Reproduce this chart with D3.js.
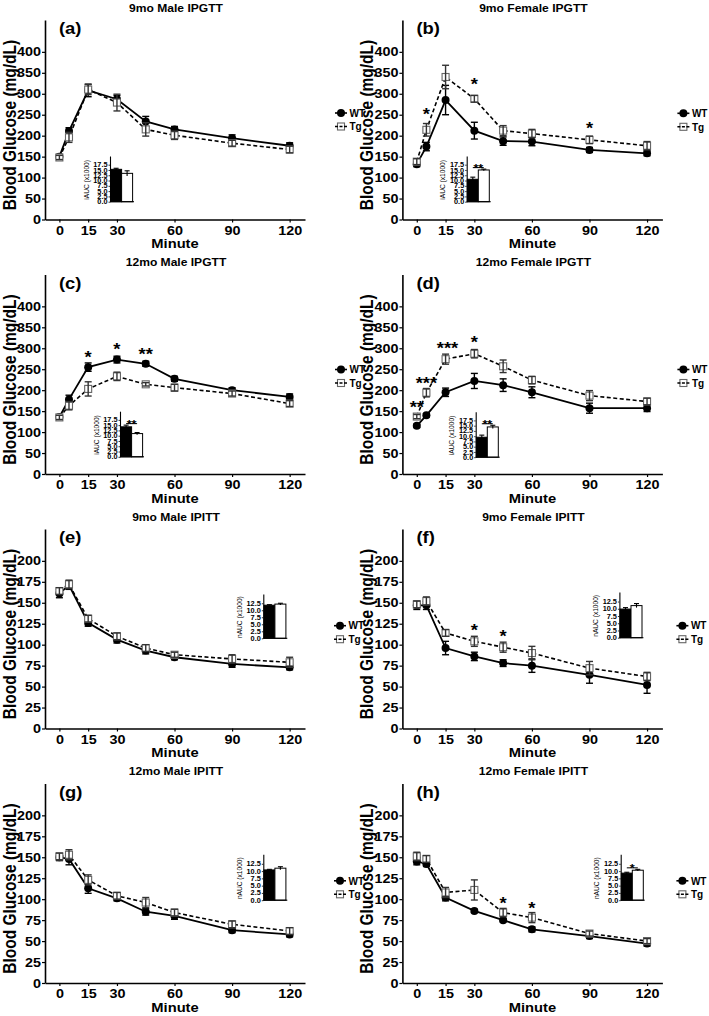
<!DOCTYPE html>
<html><head><meta charset="utf-8">
<script src="https://cdn.jsdelivr.net/npm/d3@7/dist/d3.min.js"></script>
<style>body{margin:0;background:#fff}text{font-family:"Liberation Sans",Arial,sans-serif}</style>
</head><body>
<script>
// ---------- DATA ----------
const times = [0, 5, 15, 30, 45, 60, 90, 120];
const xTicks = [0, 15, 30, 60, 90, 120];
const gttTicks = [0, 50, 100, 150, 200, 250, 300, 350, 400];
const ittTicks = [0, 25, 50, 75, 100, 125, 150, 175, 200];
const iaucTicks = [0, 2.5, 5, 7.5, 10, 12.5, 15, 17.5];
const naucTicks = [0, 2.5, 5, 7.5, 10, 12.5];
const groups = ["WT", "Tg"];
const letters = ["(a)", "(b)", "(c)", "(d)", "(e)", "(f)", "(g)", "(h)"];
const titles = ["9mo Male IPGTT", "9mo Female IPGTT", "12mo Male IPGTT", "12mo Female IPGTT",
                "9mo Male IPITT", "9mo Female IPITT", "12mo Male IPITT", "12mo Female IPITT"];
const kinds = ["GTT", "GTT", "GTT", "GTT", "ITT", "ITT", "ITT", "ITT"];

// WT / Tg means and SEM per panel
const wtA = [150, 211, 308, 287, 234, 215, 194, 176], wtAe = [5, 8, 15, 9, 12, 7, 8, 7];
const tgA = [148, 196, 310, 279, 215, 201, 182, 167], tgAe = [5, 12, 12, 20, 16, 10, 7, 8];
const wtB = [132, 174, 285, 212, 187, 186, 166, 158], wtBe = [6, 10, 35, 20, 10, 10, 6, 6];
const tgB = [138, 214, 340, 288, 212, 205, 190, 176], tgBe = [7, 15, 28, 8, 12, 10, 9, 10];
const wtC = [136, 178, 255, 273, 263, 227, 200, 184], wtCe = [5, 10, 10, 8, 6, 6, 6, 7];
const tgC = [135, 163, 203, 233, 214, 206, 192, 168], tgCe = [5, 10, 17, 10, 4, 8, 6, 7];
const wtD = [115, 140, 195, 222, 212, 195, 157, 157], wtDe = [4, 4, 10, 18, 15, 13, 12, 8];
const tgD = [137, 194, 274, 287, 257, 224, 187, 173], tgDe = [5, 10, 12, 10, 15, 9, 12, 8];
const wtE = [161, 171, 126, 106, 93, 85, 77, 73], wtEe = [5, 5, 4, 4, 4, 3, 4, 3];
const tgE = [164, 172, 131, 110, 96, 88, 83, 79], tgEe = [4, 5, 4, 4, 4, 3, 5, 6];
const wtF = [147, 147, 96, 86, 78, 75, 64, 52], wtFe = [5, 5, 8, 5, 4, 8, 10, 10];
const tgF = [148, 152, 114, 104, 97, 90, 72, 62], tgFe = [4, 5, 4, 6, 6, 8, 8, 5];
const wtG = [150, 148, 113, 101, 85, 80, 63, 58], wtGe = [4, 7, 6, 3, 4, 4, 3, 3];
const tgG = [151, 153, 123, 104, 96, 84, 70, 62], tgGe = [4, 6, 6, 4, 6, 4, 4, 4];
const wtH = [145, 142, 102, 86, 75, 64, 56, 47], wtHe = [4, 3, 4, 2, 2, 3, 3, 3];
const tgH = [151, 148, 108, 111, 84, 78, 59, 50], tgHe = [5, 4, 6, 12, 5, 6, 3, 3];

// Significance stars on curves: [time, label, glucose level]
const starsA = [];
const starsB = [[5, "*", 259], [30, "*", 332], [90, "*", 227]];
const starsC = [[15, "*", 287], [30, "*", 306], [45, "**", 294]];
const starsD = [[0, "**", 168], [5, "***", 225], [16, "***", 308], [30, "*", 324]];
const starsE = [];
const starsF = [[30, "*", 122], [45, "*", 114]];
const starsG = [];
const starsH = [[45, "*", 99], [60, "*", 93]];

// Inset AUC bars (x1000): WT, Tg, errors, significance
const aucWT  = [15.3, 10.6, 14.2, 9.5, 11.8, 9.9, 10.4, 9.3];
const aucWTe = [0.5, 1.0, 0.8, 1.0, 0.2, 0.5, 0.2, 0.3];
const aucTg  = [13.4, 15.0, 11.0, 14.4, 12.2, 11.1, 11.0, 10.3];
const aucTge = [1.2, 0.4, 0.5, 0.8, 0.3, 0.7, 0.5, 0.3];
const aucSig = ["", "**", "**", "**", "", "", "", "*"];

const series = [
  [wtA, wtAe, tgA, tgAe, starsA], [wtB, wtBe, tgB, tgBe, starsB],
  [wtC, wtCe, tgC, tgCe, starsC], [wtD, wtDe, tgD, tgDe, starsD],
  [wtE, wtEe, tgE, tgEe, starsE], [wtF, wtFe, tgF, tgFe, starsF],
  [wtG, wtGe, tgG, tgGe, starsG], [wtH, wtHe, tgH, tgHe, starsH]
];

// ---------- LAYOUT ----------
const W = 709, H = 1016, SX = 1.15;
const colX = [0, 357.4], rowH = 254.5;
const insetAx   = [110, 109.3, 120, 118.3, 263.3, 262, 263.3, 263.3];
const insetTop  = [156, 156, 156.7, 157.3, 85, 83, 90.7, 90.7];
const insetBase = [201.7, 201.7, 202.3, 202.7, 129.3, 128.7, 136.7, 136.7];
const legX = [341, 326, 341, 326, 340, 325, 340, 325];
const legY = [113, 113.3, 115, 115, 116.7, 116.7, 117.3, 117.3];

const svg = d3.select("body").append("svg").attr("width", W).attr("height", H);
svg.append("rect").attr("width", W).attr("height", H).attr("fill", "#fff");

function T(g, x, y, s, size, anchor = "start", rot = 0, sx = SX) {
  return g.append("text")
    .attr("transform", `translate(${x},${y}) scale(${sx},1)` + (rot ? ` rotate(${rot})` : ""))
    .attr("font-size", size).attr("font-weight", "bold")
    .attr("text-anchor", anchor).attr("fill", "#000").text(s);
}

function errBars(g, x, y, vals, errs, cap, color) {
  const d = vals.map((v, i) => ({ t: times[i], v, e: errs[i] }));
  const eg = g.append("g").attr("stroke", color).attr("stroke-width", 1.4).attr("fill", "none");
  d.forEach(p => {
    eg.append("line").attr("x1", x(p.t)).attr("x2", x(p.t)).attr("y1", y(p.v - p.e)).attr("y2", y(p.v + p.e));
    eg.append("line").attr("x1", x(p.t) - cap).attr("x2", x(p.t) + cap).attr("y1", y(p.v + p.e)).attr("y2", y(p.v + p.e));
    eg.append("line").attr("x1", x(p.t) - cap).attr("x2", x(p.t) + cap).attr("y1", y(p.v - p.e)).attr("y2", y(p.v - p.e));
  });
}

titles.forEach((title, i) => {
  const col = i % 2, row = Math.floor(i / 2);
  const g = svg.append("g").attr("transform", `translate(${colX[col]},${row * rowH})`);
  const gtt = kinds[i] === "GTT";
  const [wt, wte, tg, tge, stars] = series[i];

  const x = d3.scaleLinear().domain([-7.5, 128]).range([45, 305]);
  const y = d3.scaleLinear().domain([0, gtt ? 476 : 238]).range([219.5, 20]);

  // axes
  const xa = g.append("g").attr("transform", "translate(0,219.5)")
    .call(d3.axisBottom(x).tickValues(xTicks).tickSize(3).tickSizeOuter(0).tickPadding(3.5));
  const ya = g.append("g").attr("transform", "translate(45,0)")
    .call(d3.axisLeft(y).tickValues(gtt ? gttTicks : ittTicks).tickSize(3).tickSizeOuter(0).tickFormat(d3.format("d")));
  [xa, ya].forEach(a => {
    a.select(".domain").attr("stroke", "#000").attr("stroke-width", 1.6);
    a.selectAll(".tick line").attr("stroke", "#000").attr("stroke-width", 1.2);
    a.selectAll(".tick text").attr("font-size", 12.5).attr("font-weight", "bold")
      .attr("fill", "#000").attr("font-family", '"Liberation Sans",Arial,sans-serif')
      .attr("transform", `scale(${SX},1)`);
  });
  ya.selectAll(".tick text").attr("x", -4 / SX);

  T(g, 176, 11.7, title, 10.5, "middle");
  T(g, 59, 34, letters[i], 16, "start");
  T(g, 16, 125, "Blood Glucose (mg/dL)", 15.5, "middle", -90);
  T(g, 175, 248, "Minute", 12.8, "middle");

  // lines
  const line = d3.line().x((d, k) => x(times[k])).y(d => y(d));
  g.append("path").datum(tg).attr("d", line).attr("fill", "none")
    .attr("stroke", "#000").attr("stroke-width", 1.6).attr("stroke-dasharray", "4,2.5");
  g.append("path").datum(wt).attr("d", line).attr("fill", "none")
    .attr("stroke", "#000").attr("stroke-width", 1.8);

  // error bars + markers
  errBars(g, x, y, wt, wte, 3.5, "#000");
  g.append("g").selectAll("circle").data(wt).join("circle")
    .attr("cx", (d, k) => x(times[k])).attr("cy", d => y(d)).attr("r", 4).attr("fill", "#000");
  g.append("g").selectAll("rect").data(tg).join("rect")
    .attr("x", (d, k) => x(times[k]) - 3.5).attr("y", d => y(d) - 3.5)
    .attr("width", 7).attr("height", 7).attr("fill", "#fff").attr("stroke", "#666").attr("stroke-width", 1.1);
  errBars(g, x, y, tg, tge, 3.5, "#333");

  // stars
  stars.forEach(s => T(g, x(s[0]), y(s[2]) + 9.3, s[1], 16, "middle"));

  // legend
  const lg = g.append("g");
  lg.append("line").attr("x1", legX[i] - 6).attr("x2", legX[i] + 6).attr("y1", legY[i]).attr("y2", legY[i])
    .attr("stroke", "#000").attr("stroke-width", 1.6);
  lg.append("circle").attr("cx", legX[i]).attr("cy", legY[i]).attr("r", 4).attr("fill", "#000");
  const ty = legY[i] + 13.5;
  lg.append("rect").attr("x", legX[i] - 3.5).attr("y", ty - 3.5).attr("width", 7).attr("height", 7)
    .attr("fill", "#fff").attr("stroke", "#666").attr("stroke-width", 1.1);
  lg.append("line").attr("x1", legX[i] - 6).attr("x2", legX[i] + 6).attr("y1", ty).attr("y2", ty)
    .attr("stroke", "#000").attr("stroke-width", 1.4).attr("stroke-dasharray", "3,1.5");
  T(lg, legX[i] + 8.5, legY[i] + 3.7, groups[0], 10, "start", 0, 1);
  T(lg, legX[i] + 8.5, ty + 3.7, groups[1], 10, "start", 0, 1);

  // inset
  const ax = insetAx[i], top = insetTop[i], base = insetBase[i];
  const iy = d3.scaleLinear().domain([0, gtt ? 21.6 : 15.8]).range([base, top]);
  const ix = d3.scaleBand().domain(groups).range([ax + 0.6, ax + 22.6]).padding(0);
  const ig = g.append("g");
  const vals = [aucWT[i], aucTg[i]], errs = [aucWTe[i], aucTge[i]];
  ig.selectAll("rect").data(groups).join("rect")
    .attr("x", d => ix(d)).attr("width", ix.bandwidth())
    .attr("y", (d, k) => iy(vals[k])).attr("height", (d, k) => base - iy(vals[k]))
    .attr("fill", (d, k) => k === 0 ? "#000" : "#fff").attr("stroke", "#000").attr("stroke-width", 1);
  groups.forEach((d, k) => {
    const cx = ix(d) + ix.bandwidth() / 2;
    ig.append("line").attr("x1", cx).attr("x2", cx).attr("y1", iy(vals[k] - errs[k])).attr("y2", iy(vals[k] + errs[k]))
      .attr("stroke", "#000").attr("stroke-width", 1.1);
    ig.append("line").attr("x1", cx - 2.5).attr("x2", cx + 2.5).attr("y1", iy(vals[k] + errs[k])).attr("y2", iy(vals[k] + errs[k]))
      .attr("stroke", "#000").attr("stroke-width", 1.1);
  });
  const iya = ig.append("g").attr("transform", `translate(${ax},0)`)
    .call(d3.axisLeft(iy).tickValues(gtt ? iaucTicks : naucTicks).tickSize(1.5).tickSizeOuter(0).tickPadding(1).tickFormat(d3.format(".1f")));
  iya.select(".domain").attr("stroke", "#000").attr("stroke-width", 1.1);
  iya.selectAll(".tick line").attr("stroke", "#000").attr("stroke-width", 0.8);
  iya.selectAll(".tick text").attr("font-size", 6.4).attr("font-weight", "bold").attr("fill", "#000")
    .attr("font-family", '"Liberation Sans",Arial,sans-serif').attr("transform", `scale(${SX},1)`).attr("x", -2.5 / SX);
  ig.append("line").attr("x1", ax).attr("x2", ax + 24).attr("y1", base).attr("y2", base)
    .attr("stroke", "#000").attr("stroke-width", 1.1);
  T(ig, ax - 21.5, (top + base) / 2 + 1, (gtt ? "iAUC" : "nAUC") + " (x1000)", 6.6, "middle", -90).attr("font-weight", "normal");
  if (aucSig[i]) {
    const by = iy(Math.max(vals[0] + errs[0], vals[1] + errs[1])) - 1.5;
    const c0 = ix("WT") + ix.bandwidth() / 2, c1 = ix("Tg") + ix.bandwidth() / 2;
    ig.append("line").attr("x1", c0).attr("x2", c1).attr("y1", by).attr("y2", by).attr("stroke", "#000").attr("stroke-width", 1);
    T(ig, (c0 + c1) / 2, by + 4.5, aucSig[i], 11, "middle");
  }
});
</script>
</body></html>
